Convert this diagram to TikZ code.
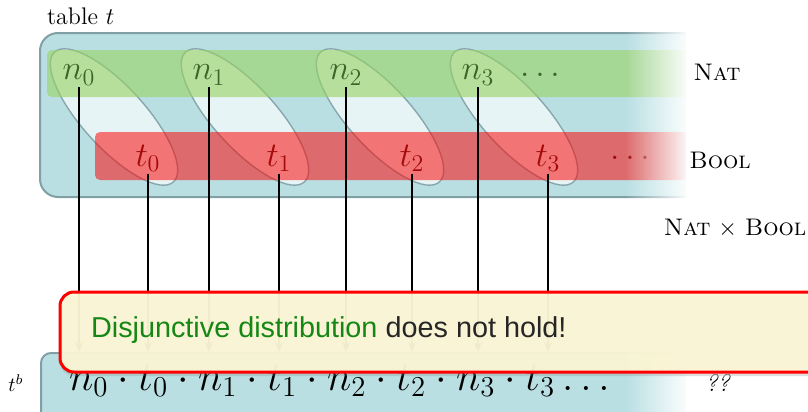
\documentclass[tikz,border=0pt]{standalone}
\usepackage{fontspec}
\newfontfamily\notefont{Liberation Sans}
\usetikzlibrary{arrows.meta, positioning, calc, fadings, shadows}

\definecolor{tabblue}{RGB}{185,223,227}
\definecolor{tabedge}{RGB}{128,160,166}
\definecolor{natgreen}{RGB}{152,210,97}
\definecolor{natdark}{RGB}{62,100,40}
\definecolor{booldark}{RGB}{165,10,10}
\definecolor{noteyellow}{RGB}{251,246,213}
\definecolor{notegreen}{RGB}{20,135,20}

\begin{document}
\begin{tikzpicture}[
    x=0.5pt, y=-0.5pt,
    box/.style={fill=tabblue, draw=tabedge, line width=1pt},
    pair/.style={fill=white, fill opacity=0.67, draw=tabedge, draw opacity=0.9, line width=0.7pt},
    natlab/.style={font=\LARGE, text=natdark, inner sep=1pt},
    boollab/.style={font=\LARGE, text=booldark, inner sep=1pt},
    proj/.style={-{Stealth[length=5pt]}, line width=1pt},
    notebox/.style={fill=noteyellow, fill opacity=0.95, draw=red, line width=1.5pt,
        rounded corners=7pt, drop shadow={opacity=0.25, shadow xshift=0pt, shadow yshift=-2pt}}
]
\useasboundingbox (0,0) rectangle (808,412);
\clip (0,0) rectangle (808,412);

% table t
\node[anchor=west, font=\large] (tname) at (40,16) {table $t$};
\draw[box, rounded corners=9pt] (40,33) rectangle (700,197);

% pairs (n_i, t_i)
\foreach \cx in {114,245,380,514} {
  \begin{scope}[shift={(\cx,117)}, rotate=-47.5]
    \draw[pair] (0,0) ellipse [x radius=88, y radius=31];
  \end{scope}
}

% rows
\fill[natgreen, fill opacity=0.6, rounded corners=2.5pt] (47,50) rectangle (700,97);
\fill[red, fill opacity=0.52, rounded corners=2.5pt] (95,132) rectangle (700,180);

\node[natlab] (n0) at (79,75) {$n_0$};
\node[natlab] (n1) at (209,75) {$n_1$};
\node[natlab] (n2) at (346,75) {$n_2$};
\node[natlab] (n3) at (478,75) {$n_3$};
\node[natlab] (ndots) at (540,75) {$\dots$};

\node[boollab] (t0) at (148,158) {$t_0$};
\node[boollab] (t1) at (279,158) {$t_1$};
\node[boollab] (t2) at (412,158) {$t_2$};
\node[boollab] (t3) at (548,158) {$t_3$};
\node[boollab] (tdots) at (630,158) {$\dots$};

% serialised table
\node[box, rounded corners=5pt, minimum width=330pt, minimum height=39pt,
      anchor=north west] (tb) at (40,352) {};
\node[font=\huge, anchor=west] (tbtext) at (62,381)
  {$n_0\cdot t_0\cdot n_1\cdot t_1\cdot n_2\cdot t_2\cdot n_3\cdot t_3\dots$};
\node (tblab) at (16,383) {$t^b$};

% projections
\foreach \v in {n0,n1,n2,n3,t0,t1,t2,t3}
  \draw[proj] (\v.south) -- (\v |- tb.north);

% fade out on the right
\fill[white, path fading=west] (625,25) rectangle (690,205);
\fill[white, path fading=west] (625,345) rectangle (690,412);
\fill[white] (686,25) rectangle (706,205);
\fill[white] (686,345) rectangle (706,412);

% types
\node[font=\large] (nat) at (717,72) {\textsc{Nat}};
\node[font=\large] (bool) at (720,160) {\textsc{Bool}};
\node[font=\large] (natbool) at (735,228) {\textsc{Nat} $\times$ \textsc{Bool}};
\node[font=\large] (qq) at (718,383) {\textit{??}};

% callout
\draw[notebox] (60,292) rectangle (850,372);
\node[anchor=west, font=\notefont\Large, text=black!85] (note) at (84,330)
  {\textcolor{notegreen}{Disjunctive distribution} does not hold!};

\end{tikzpicture}
\end{document}
